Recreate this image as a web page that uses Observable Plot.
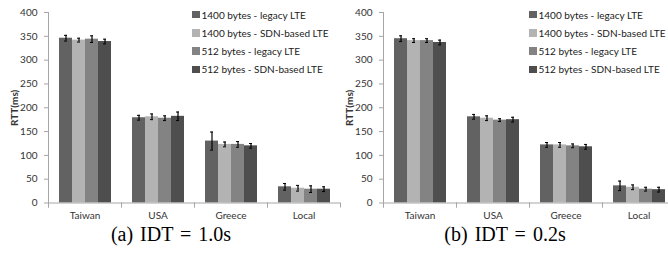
<!DOCTYPE html>
<html><head><meta charset="utf-8">
<script src="https://cdn.jsdelivr.net/npm/d3@7"></script>
<script src="https://cdn.jsdelivr.net/npm/@observablehq/plot@0.6"></script>
<style>
html,body{margin:0;padding:0;background:#fff;width:668px;height:259px;overflow:hidden;position:relative;}
.panel{position:absolute;top:0;}
.legend{position:absolute;font:10px Lato;color:#222;}
.legend .row{position:absolute;left:0;white-space:nowrap;display:flex;align-items:center;height:12px;}
.legend .sw{width:7.5px;height:7.5px;margin-right:2px;}
.caption{position:absolute;top:224px;width:220px;text-align:center;font:20px "Liberation Serif";line-height:20px;word-spacing:2px;color:#000;}
</style></head><body>
<script>
const categories = ["Taiwan", "USA", "Greece", "Local"];
const series = ["1400 bytes - legacy LTE", "1400 bytes - SDN-based LTE", "512 bytes - legacy LTE", "512 bytes - SDN-based LTE"];
const colors = ["#626262", "#b3b3b3", "#838383", "#4e4e4e"];
const yTicks = [0, 50, 100, 150, 200, 250, 300, 350, 400];
const captions = ["(a) IDT = 1.0s", "(b) IDT = 0.2s"];

// Panel (a) IDT = 1.0s : mean RTT (ms) per category, one array per series
const a_1400_legacy = [346, 179, 130, 34];
const a_1400_sdn    = [342, 181, 123, 31];
const a_512_legacy  = [344, 178, 123, 29];
const a_512_sdn     = [339, 182, 120, 29];
const a_err_1400_legacy = [6, 5, 19, 7];
const a_err_1400_sdn    = [4, 6, 5, 6];
const a_err_512_legacy  = [7, 5, 6, 7];
const a_err_512_sdn     = [5, 9, 5, 5];

// Panel (b) IDT = 0.2s
const b_1400_legacy = [345, 181, 122, 36];
const b_1400_sdn    = [341, 178, 122, 33];
const b_512_legacy  = [341, 174, 120, 29];
const b_512_sdn     = [337, 175, 118, 28];
const b_err_1400_legacy = [6, 5, 5, 10];
const b_err_1400_sdn    = [4, 5, 5, 5];
const b_err_512_legacy  = [4, 3, 4, 4];
const b_err_512_sdn     = [5, 5, 5, 5];

const panels = [
  {values: [a_1400_legacy, a_1400_sdn, a_512_legacy, a_512_sdn],
   errors: [a_err_1400_legacy, a_err_1400_sdn, a_err_512_legacy, a_err_512_sdn],
   left: 0, legendLeft: 192, captionCenter: 171},
  {values: [b_1400_legacy, b_1400_sdn, b_512_legacy, b_512_sdn],
   errors: [b_err_1400_legacy, b_err_1400_sdn, b_err_512_legacy, b_err_512_sdn],
   left: 335, legendLeft: 529, captionCenter: 505}
];

const axisGray = "#a6a6a6";

panels.forEach((p, k) => {
  const rows = [];
  categories.forEach((c, i) => series.forEach((s, j) => rows.push({category: c, series: s, value: p.values[j][i], err: p.errors[j][i]})));
  const chart = Plot.plot({
    width: 345, height: 224,
    marginLeft: 48, marginRight: 5, marginTop: 12, marginBottom: 21.5,
    style: {fontFamily: "Lato", fontSize: "10px", color: "#333", background: "transparent", overflow: "visible"},
    fx: {domain: categories, padding: 0, label: null},
    x: {domain: series, paddingInner: 0, paddingOuter: 0.74, axis: null},
    y: {domain: [0, 400]},
    color: {domain: series, range: colors},
    marks: [
      Plot.barY(rows, {fx: "category", x: "series", y: "value", fill: "series"}),
      Plot.ruleX(rows, {fx: "category", x: "series", y1: d => d.value - d.err, y2: d => d.value + d.err, stroke: "#000", strokeWidth: 1.2}),
      Plot.tickY(rows, {fx: "category", x: "series", y: d => d.value + d.err, insetLeft: 5, insetRight: 5, stroke: "#000"}),
      Plot.tickY(rows, {fx: "category", x: "series", y: d => d.value - d.err, insetLeft: 5, insetRight: 5, stroke: "#000"}),
      Plot.ruleY([0], {stroke: axisGray}),
      Plot.frame({anchor: "left", insetTop: 190.5, insetBottom: -4, stroke: axisGray}),
      Plot.frame({anchor: "right", insetTop: 190.5, insetBottom: -4, stroke: axisGray}),
      Plot.frame({anchor: "left", insetBottom: -4, stroke: axisGray, facetAnchor: "left"}),
      Plot.axisY({ticks: yTicks, tickSize: 4, tickPadding: 7, stroke: axisGray, fill: "#333",
                  label: "RTT(ms)", labelAnchor: "center", labelArrow: "none", labelOffset: 38}),
      Plot.axisFx({anchor: "bottom", tickSize: 0, tickPadding: 9, label: null, fill: "#333"})
    ]
  });
  chart.classList.add("panel");
  chart.style.left = p.left + "px";
  document.body.appendChild(chart);

  const lg = document.createElement("div");
  lg.className = "legend";
  lg.style.left = p.legendLeft + "px";
  lg.style.top = "0px";
  series.forEach((s, j) => {
    const r = document.createElement("div");
    r.className = "row";
    r.style.top = (8.5 + j * 18.3) + "px";
    const sw = document.createElement("span");
    sw.className = "sw";
    sw.style.background = colors[j];
    const t = document.createElement("span");
    t.textContent = s;
    r.appendChild(sw); r.appendChild(t);
    lg.appendChild(r);
  });
  document.body.appendChild(lg);

  const cap = document.createElement("div");
  cap.className = "caption";
  cap.style.left = (p.captionCenter - 110) + "px";
  cap.textContent = captions[k];
  document.body.appendChild(cap);
});
</script>
<style>
svg g[aria-label="y-axis label"] text { font-weight: bold; }
</style>
</body></html>
